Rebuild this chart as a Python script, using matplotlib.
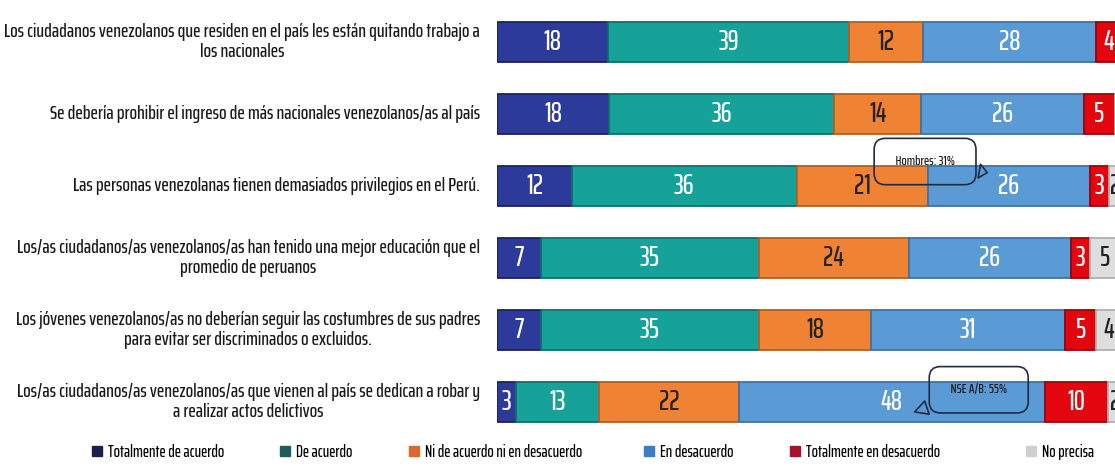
import matplotlib
matplotlib.use("Agg")
import matplotlib.pyplot as plt
from matplotlib.lines import Line2D
from matplotlib.transforms import blended_transform_factory
import numpy as np

statements = [
    "Los ciudadanos venezolanos que residen en el país les están quitando trabajo a\nlos nacionales",
    "Se debería prohibir el ingreso de más nacionales venezolanos/as al país",
    "Las personas venezolanas tienen demasiados privilegios en el Perú.",
    "Los/as ciudadanos/as venezolanos/as han tenido una mejor educación que el\npromedio de peruanos",
    "Los jóvenes venezolanos/as no deberían seguir las costumbres de sus padres\npara evitar ser discriminados o excluidos.",
    "Los/as ciudadanos/as venezolanos/as que vienen al país se dedican a robar y\na realizar actos delictivos",
]
categories = ["Totalmente de acuerdo", "De acuerdo", "Ni de acuerdo ni en desacuerdo",
              "En desacuerdo", "Totalmente en desacuerdo", "No precisa"]

tot_acuerdo = [18, 18, 12, 7, 7, 3]
de_acuerdo = [39, 36, 36, 35, 35, 13]
ni_ni = [12, 14, 21, 24, 18, 22]
en_desacuerdo = [28, 26, 26, 26, 31, 48]
tot_desacuerdo = [4, 5, 3, 3, 5, 10]
no_precisa = [0, 1, 2, 5, 4, 2]

bar_colors = ["#2c3a9c", "#16a199", "#f08333", "#5b9bd5", "#e3060f", "#dedede"]
edge_colors = ["#1a2266", "#0e6f6a", "#b85e1f", "#3d73a8", "#9c0208", "#b0b0b0"]
legend_colors = ["#1b1f4f", "#1e5f5b", "#d96a2b", "#3c7dc4", "#a5142a", "#cfcfcf"]
text_colors = ["white", "white", "#222222", "white", "white", "#222222"]

W, H = 1115, 469
fig = plt.figure(figsize=(W / 100, H / 100), dpi=100)

FONT = ["Saira ExtraCondensed", "Barlow Condensed", "DejaVu Sans"]

# axes: 0% at x=497px, 100% at x=1121px; rows spaced 72px, first centred at y=42px
ax = fig.add_axes([497 / W, (H - 438) / H, (1121 - 497) / W, 432 / H])
ax.set_xlim(0, 100)
ax.set_ylim(5.5, -0.5)
ax.axis("off")

series = np.array([tot_acuerdo, de_acuerdo, ni_ni, en_desacuerdo, tot_desacuerdo, no_precisa], float)
shares = series / series.sum(axis=0) * 100
y = np.arange(len(statements))

left = np.zeros(len(statements))
for k in range(len(categories)):
    ax.barh(y, shares[k], left=left, height=0.55, color=bar_colors[k],
            edgecolor=edge_colors[k], linewidth=1.3)
    for i in range(len(statements)):
        if series[k, i] > 1:
            ax.text(left[i] + shares[k, i] / 2, y[i], f"{int(series[k, i])}",
                    ha="center", va="center", color=text_colors[k], fontsize=20,
                    family=FONT, weight="medium")
    left += shares[k]

lab_tr = blended_transform_factory(fig.transFigure, ax.transData)
for i, s in enumerate(statements):
    ax.text(480 / W, y[i], s, transform=lab_tr, ha="right", va="center",
            multialignment="center", fontsize=14.3, color="#1a1a1a", linespacing=1.08,
            family=FONT, weight="medium")

# callouts
callout = dict(ha="center", va="center", fontsize=10, color="#1a1a1a", family=FONT, weight="medium",
               bbox=dict(boxstyle="round,pad=1.2,rounding_size=0.8", fc="none", ec="#1f2a44", lw=1.2),
               arrowprops=dict(arrowstyle="wedge,tail_width=1.0,shrink_factor=0.5", fc="none",
                               ec="#1f2a44", lw=1.2))
ax.annotate("  Hombres: 31%  ", xy=(79.0, 1.82), xytext=(68.6, 1.66), **callout)
ax.annotate("  NSE A/B: 55%  ", xy=(66.5, 5.15), xytext=(77.2, 4.83), **callout)

# legend
leg_x = [95, 283, 412, 647, 793, 1029]
for k, cat in enumerate(categories):
    h = Line2D([], [], marker="s", linestyle="none", markersize=6.5,
               markerfacecolor=legend_colors[k], markeredgecolor=legend_colors[k])
    fig.legend([h], [cat], loc="center left", bbox_to_anchor=(leg_x[k] / W - 0.012, 1 - 452 / H),
               frameon=False, handlelength=0.8, handletextpad=0.3, borderpad=0,
               prop=dict(size=12, family=FONT, weight="medium"))

fig.savefig("out.png", dpi=100)
